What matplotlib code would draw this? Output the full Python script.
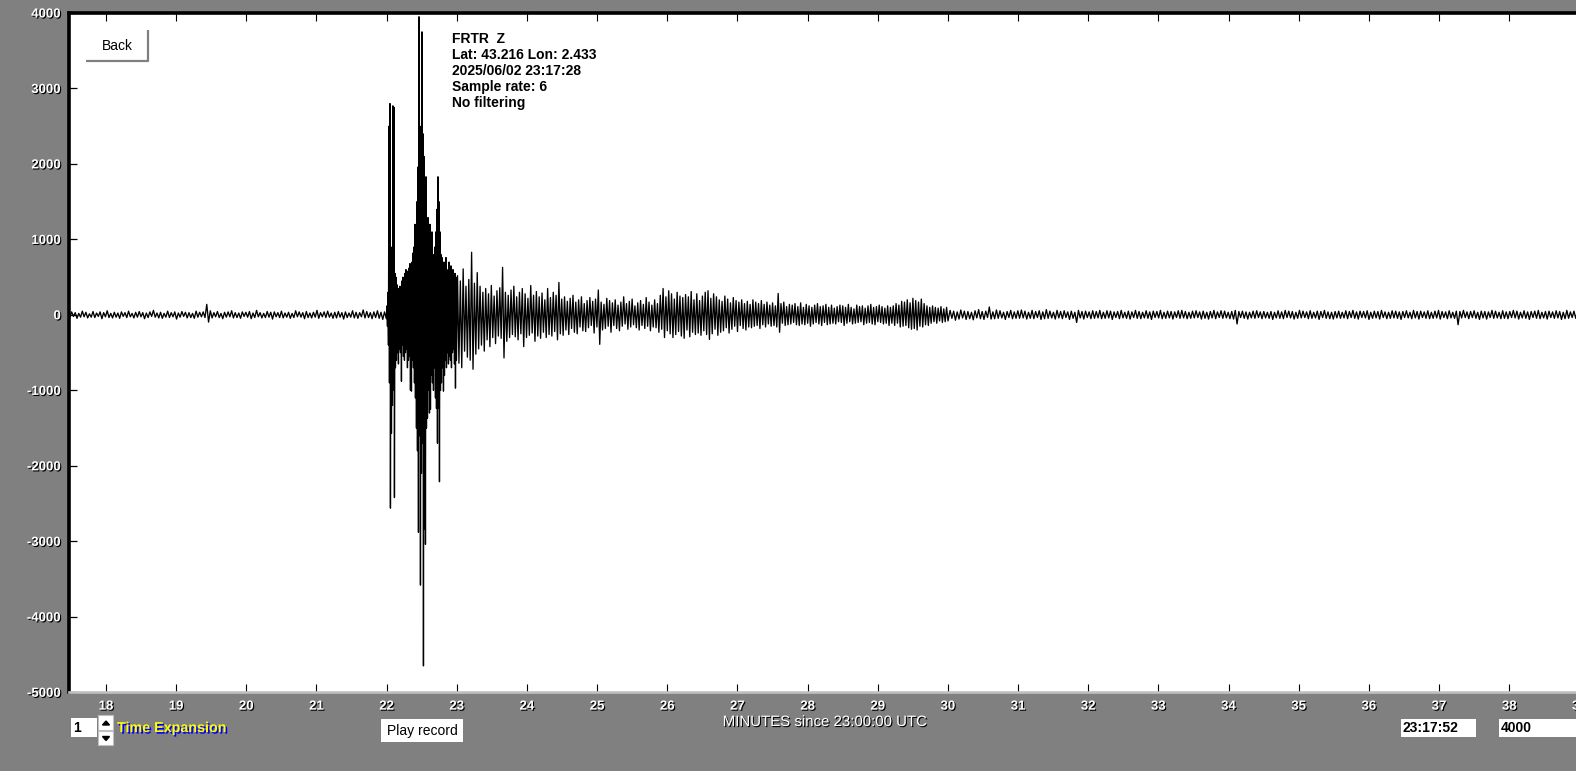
import matplotlib
matplotlib.use("Agg")
import matplotlib.pyplot as plt
import matplotlib.patheffects as pe
from matplotlib.patches import Rectangle, Polygon
import numpy as np

W, H = 1576, 771

pre_event = [25, -35, 40, -20, 30, -45, 20, -30, 50, -25,
             35, -40, 15, -30, 45, -35, 25, -20, 40, -50,
             30, -25, 55, -35, 20, -40, 35, -30, 25, -45,
             40, -20, 30, -35, 50, -25, 20, -40, 35, -30,
             45, -25, 30, -50, 25, -35, 40, -20, 60, -30,
             25, -40, 35, -45, 20, -30, 50, -35, 30, -25,
             40, -55, 25, -30, 45, -20, 35, -40, 30, -35,
             20, -45, 50, -30, 35, -25, 40, -35, 140, -95,
             55, -40, 30, -25, 45, -35, 20, -50, 35, -30,
             40, -25, 55, -40, 30, -35, 25, -45, 40, -20,
             35, -30, 45, -50, 25, -35, 60, -25, 30, -40,
             20, -35, 45, -30, 35, -55, 40, -25, 30, -35,
             50, -40, 25, -30, 35, -45, 20, -35, 55, -25,
             40, -30, 30, -50, 45, -35, 25, -40, 35, -30,
             60, -45, 30, -25, 40, -35, 50, -30, 25, -45,
             35, -40, 45, -30, 30, -55, 40, -35, 25, -30,
             55, -40, 35, -45, 30, -25, 65, -40, 45, -35,
             30, -50, 40, -35, 55, -45, 35, -60, 40, -50]

# first arrivals: max / min per screen column
event_hi = [120, 300, 2500, 2800, 900, 650, 2770, 2750, 550, 500,
            400, 300, 350, 380, 300, 450, 500, 350, 550, 600,
            400, 580, 620, 680, 500, 700, 820, 900, 1200, 1000,
            1500, 1960, 3950, 2500, 2000, 3750, 2400, 2100, 1800, 1830,
            1100, 1290, 1000, 1200, 900, 1100, 700, 800, 900, 1100,
            1400, 1830, 1500, 1100, 800, 760, 600, 700, 500, 760,
            600, 500, 700, 450, 650, 500, 600, 400, 550, 500]
event_lo = [-150, -400, -900, -2560, -1570, -1200, -1000, -2420, -700, -600,
            -500, -650, -450, -500, -880, -400, -550, -600, -500, -450,
            -700, -600, -550, -1000, -1010, -600, -700, -900, -1100, -1500,
            -1800, -2880, -1600, -3580, -2100, -1700, -4650, -2840, -3040, -1500,
            -1370, -1000, -1300, -1250, -800, -900, -1000, -700, -1100, -1240,
            -1700, -1240, -2210, -1000, -900, -700, -1010, -800, -600, -700,
            -500, -650, -550, -600, -700, -500, -450, -650, -970, -600]

coda_early = [520, -640, 450, -700, 610, -480, 380, -560, 470, -600,
              830, -720, 420, -520, 560, -450, 380, -400, 300, -480,
              350, -330, 280, -420, 390, -300, 250, -380, 320, -280,
              360, -310, 630, -570, 300, -350, 260, -300, 330, -260,
              380, -290, 240, -330, 300, -250, 350, -420, 280, -300,
              220, -270, 390, -240, 260, -350, 310, -280, 240, -310,
              290, -230, 200, -300, 350, -260, 230, -280, 300, -220,
              260, -330, 430, -250, 210, -270, 240, -200, 180, -260,
              220, -180, 260, -230, 170, -250, 200, -160, 240, -210,
              150, -220, 190, -170, 230, -140, 180, -240, 210, -160,
              330, -390, 170, -200, 140, -180, 220, -150, 190, -230,
              160, -140, 200, -180, 130, -210, 170, -150, 240, -120,
              150, -190, 180, -160, 210, -130, 120, -170, 160, -200,
              190, -140, 140, -180, 230, -150, 170, -210, 130, -160,
              200, -170, 150, -230, 260, -190, 350, -300, 240, -210]

coda_late = [320, -250, 280, -300, 210, -260, 300, -220, 250, -280,
             230, -310, 270, -200, 240, -290, 310, -230, 200, -260,
             280, -240, 190, -270, 250, -210, 300, -260, 320, -325,
             220, -250, 280, -190, 240, -270, 200, -230, 180, -210,
             250, -170, 210, -240, 160, -190, 230, -150, 190, -220,
             170, -140, 200, -180, 150, -200, 180, -160, 140, -170,
             200, -150, 170, -140, 150, -180, 190, -130, 140, -160,
             170, -120, 130, -150, 160, -140, 120, -160, 284, -230,
             150, -110, 170, -140, 110, -130, 140, -120, 130, -100,
             150, -130, 110, -140, 160, -120, 100, -130, 140, -110,
             120, -150, 100, -120, 130, -100, 150, -120, 110, -140,
             120, -100, 140, -130, 100, -120, 130, -110, 90, -120,
             110, -90, 130, -100, 120, -140, 100, -110, 140, -90,
             100, -120, 80, -110, 130, -100, 110, -90, 120, -130,
             90, -110, 120, -100, 140, -120, 100, -130, 110, -90,
             130, -100, 110, -120, 90, -110, 120, -140, 100, -110,
             120, -140, 150, -110, 130, -160, 180, -150, 170, -140,
             200, -170, 160, -190, 220, -180, 190, -200, 170, -150,
             210, -160, 150, -130, 120, -140, 100, -110, 120, -90,
             100, -110, 90, -80, 110, -100, 80, -90, 100, -80]

late_noise = [60, -45, 50, -70, 40, -55, 65, -40, 50, -60,
              45, -50, 35, -65, 55, -40, 70, -50, 45, -60,
              50, -35, 105, -55, 40, -50, 65, -45, 55, -40,
              35, -60, 45, -35, 60, -50, 40, -45, 55, -45,
              65, -40, 50, -55, 35, -45, 60, -50, 45, -35,
              55, -60, 40, -50, 70, -45, 50, -40, 35, -55,
              60, -40, 45, -50, 55, -35, 40, -60, 50, -45,
              35, -100, 60, -40, 45, -55, 50, -35, 40, -50,
              55, -45, 45, -40, 60, -50, 35, -45, 55, -40,
              50, -60, 40, -35, 45, -50, 60, -40, 35, -45,
              50, -55, 40, -35, 60, -45, 45, -50, 35, -40,
              55, -45, 40, -60, 50, -35, 45, -40, 60, -50,
              35, -45, 50, -40, 45, -55, 40, -35, 55, -45,
              60, -40, 45, -50, 35, -45, 50, -40, 55, -35,
              40, -55, 50, -45, 35, -55, 45, -40, 60, -50,
              40, -35, 55, -45, 50, -40, 35, -50, 45, -55,
              60, -120, 45, -35, 50, -45, 40, -55, 35, -40,
              50, -45, 55, -35, 40, -50, 45, -40, 35, -45,
              45, -60, 35, -40, 55, -45, 40, -50, 60, -35,
              50, -40, 45, -55, 35, -45, 60, -40, 50, -35,
              40, -50, 55, -45, 35, -40, 50, -60, 45, -35,
              60, -45, 40, -50, 35, -55, 45, -40, 50, -45,
              35, -40, 55, -50, 45, -35, 60, -45, 40, -55,
              50, -35, 45, -40, 55, -60, 35, -45, 50, -40,
              45, -55, 60, -35, 40, -50, 35, -45, 55, -40,
              50, -45, 40, -60, 45, -35, 55, -40, 35, -50,
              60, -40, 45, -55, 50, -35, 40, -45, 55, -50,
              35, -45, 50, -40, 60, -55, 45, -35, 40, -50,
              55, -40, 35, -45, 50, -130, 45, -40, 60, -35,
              40, -50, 45, -35, 55, -45, 35, -60, 50, -40,
              45, -55, 40, -35, 60, -45, 50, -40, 35, -50,
              55, -45, 40, -50, 45, -35, 60, -40, 50, -55,
              35, -40, 55, -45, 40, -60, 45, -35, 50, -45,
              60, -50, 35, -40, 45, -55, 50, -35, 40, -45,
              55, -40, 45, -60, 35, -50, 60, -45, 40, -35,
              50, -45, 55, -40, 35, -50, 45, -55, 60, -40]

# minutes since 23:00 spanned by each section
pre_span = (17.46, 21.995)
event_span = (22.004, 22.995)
coda_early_span = (23.01, 26.0)
coda_late_span = (26.02, 30.0)
late_span = (30.03, 39.15)

minutes = list(range(18, 40))
counts = list(range(4000, -5001, -1000))

info_lines = ["FRTR  Z", "Lat: 43.216 Lon: 2.433", "2025/06/02 23:17:28",
              "Sample rate: 6", "No filtering"]

t = np.concatenate([
    np.linspace(*pre_span, len(pre_event)),
    np.linspace(*event_span, 2 * len(event_hi)),
    np.linspace(*coda_early_span, len(coda_early)),
    np.linspace(*coda_late_span, len(coda_late)),
    np.linspace(*late_span, len(late_noise)),
])
trace = np.concatenate([
    pre_event,
    np.column_stack([event_hi, event_lo]).ravel(),
    coda_early, coda_late, late_noise,
])

fig = plt.figure(figsize=(W / 100, H / 100), dpi=100, facecolor="#808080")
left, right, top, bottom = 68.5, 1590, 13, 692.3
ax = fig.add_axes([left / W, 1 - bottom / H, (right - left) / W, (bottom - top) / H])
ax.set_facecolor("white")
ax.plot(t, trace, color="black", lw=0.95)
ax.set_xlim(17.4656, 39.15)
ax.set_ylim(-5000, 4000)

ax.spines["left"].set(color="black", linewidth=2.6)
ax.spines["top"].set(color="black", linewidth=2.6)
ax.spines["bottom"].set(color="#c0c0c0", linewidth=1.9)
ax.spines["right"].set_visible(False)

ax.set_xticks(minutes, [str(m) for m in minutes])
ax.set_yticks(counts, [str(c) for c in counts])
ax.tick_params(axis="x", direction="in", top=True, bottom=True, length=5.5,
               width=0.8, color="black", pad=6, labelcolor="white", labelsize=9.5)
ax.tick_params(axis="y", direction="in", length=6, width=0.9, color="black",
               pad=5.5, labelcolor="white", labelsize=9.5)
shadow = [pe.withSimplePatchShadow(offset=(0.8, -0.8), shadow_rgbFace="black", alpha=1.0)]
for lab in ax.get_xticklabels() + ax.get_yticklabels():
    lab.set_fontweight("bold")
    lab.set_fontfamily("Liberation Sans")
    lab.set_path_effects(shadow)

# overlay in screen pixels for the widgets and captions
ov = fig.add_axes([0, 0, 1, 1], zorder=5)
ov.set_xlim(0, W)
ov.set_ylim(H, 0)
ov.axis("off")

font = "Liberation Sans"

# Back button
ov.add_patch(Rectangle((86, 30), 62, 31, facecolor="white", edgecolor="none"))
ov.plot([148, 148, 86], [30, 61, 61], color="#808080", lw=1.6, solid_capstyle="butt")
ov.text(117, 45.5, "Back", family=font, fontsize=10, ha="center", va="center", color="black")

for i, line in enumerate(info_lines):
    ov.text(452, 43 + 16 * i, line, family=font, fontsize=10, fontweight="bold",
            ha="left", va="baseline", color="black")

ov.text(825, 722, "MINUTES since 23:00:00 UTC", family=font, fontsize=10.8,
        ha="center", va="center", color="white", path_effects=shadow)

# time expansion box + spinner
ov.add_patch(Rectangle((71, 718), 26, 19, facecolor="white", edgecolor="none"))
ov.text(73, 728, "1", family=font, fontsize=10, fontweight="bold", ha="left", va="center")
ov.add_patch(Rectangle((98.5, 715), 15, 15, facecolor="white", edgecolor="#c0c0c0", lw=0.8))
ov.add_patch(Rectangle((98.5, 731), 15, 14, facecolor="white", edgecolor="#c0c0c0", lw=0.8))
ov.add_patch(Polygon([(102.5, 725), (109.5, 725), (106, 721)], closed=True, color="black"))
ov.add_patch(Polygon([(102.5, 736.5), (109.5, 736.5), (106, 740.5)], closed=True, color="black"))
ov.text(117, 728, "Time Expansion", family=font, fontsize=10.3, fontweight="bold",
        ha="left", va="center", color="#ffff00",
        path_effects=[pe.withSimplePatchShadow(offset=(1.2, -1.2), shadow_rgbFace="#0000ff", alpha=1.0)])

# play record button
ov.add_patch(Rectangle((381, 719), 82, 23, facecolor="white", edgecolor="none"))
ov.text(422, 730.5, "Play record", family=font, fontsize=10, ha="center", va="center")

# time and scale boxes
ov.add_patch(Rectangle((1401, 719), 75, 18, facecolor="white", edgecolor="none"))
ov.text(1403, 728, "23:17:52", family=font, fontsize=10, fontweight="bold", ha="left", va="center")
ov.add_patch(Rectangle((1499, 719), 80, 18, facecolor="white", edgecolor="none"))
ov.text(1501, 728, "4000", family=font, fontsize=10, fontweight="bold", ha="left", va="center")

fig.savefig("out.png", dpi=100, facecolor=fig.get_facecolor())
